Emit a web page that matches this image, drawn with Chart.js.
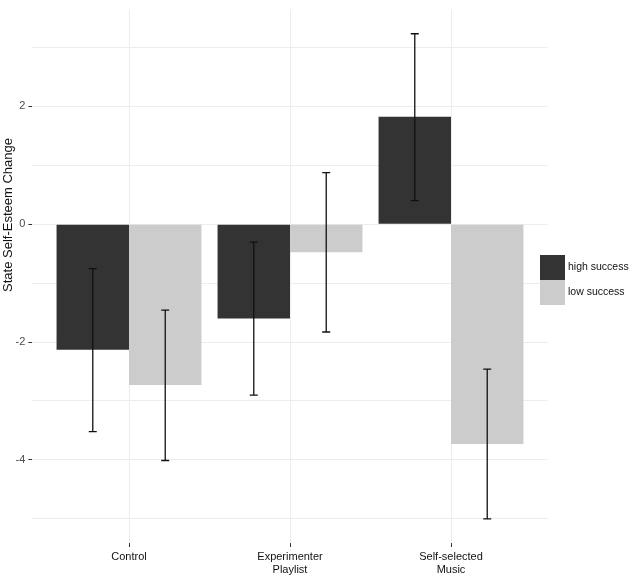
<!DOCTYPE html>
<html>
<head>
<meta charset="utf-8">
<script src="https://cdn.jsdelivr.net/npm/chart.js@4"></script>
<style>
  body { margin: 0; background: #fff; }
  canvas { display: block; }
</style>
</head>
<body>
<canvas id="chart" width="630" height="577"></canvas>
<script>
// values
const categories = [['Control'], ['Experimenter', 'Playlist'], ['Self-selected', 'Music']];
const groups = ['high success', 'low success'];
const highMean = [-2.13, -1.60, 1.82];
const highLow = [-3.52, -2.90, 0.40];
const highHigh = [-0.755, -0.305, 3.23];
const lowMean = [-2.73, -0.477, -3.73];
const lowLow = [-4.01, -1.83, -5.0];
const lowHigh = [-1.46, 0.873, -2.46];
const yTicks = [-5, -4, -3, -2, -1, 0, 1, 2, 3];
const yTitle = 'State Self-Esteem Change';

const colors = ['#333333', '#cccccc'];
const font = '"Liberation Sans", Arial, sans-serif';

const toPoints = arr => arr.map((v, i) => ({ x: i + 1, y: v }));

// draws the error bars from the low/high arrays
const errorBars = {
  id: 'errorBars',
  afterDatasetsDraw(chart) {
    const ctx = chart.ctx;
    const yScale = chart.scales.y;
    const ranges = [[highLow, highHigh], [lowLow, lowHigh]];
    ctx.save();
    ctx.strokeStyle = '#111';
    ctx.lineWidth = 1.3;
    ranges.forEach((r, d) => {
      const meta = chart.getDatasetMeta(d);
      meta.data.forEach((bar, i) => {
        const x = bar.x;
        const y1 = yScale.getPixelForValue(r[0][i]);
        const y2 = yScale.getPixelForValue(r[1][i]);
        ctx.beginPath();
        ctx.moveTo(x, y1); ctx.lineTo(x, y2);
        ctx.moveTo(x - 4, y1); ctx.lineTo(x + 4, y1);
        ctx.moveTo(x - 4, y2); ctx.lineTo(x + 4, y2);
        ctx.stroke();
      });
    });
    ctx.restore();
  }
};

// ggplot style legend on the right + y title
const extras = {
  id: 'extras',
  afterDraw(chart) {
    const ctx = chart.ctx;
    const x = 540, y = 255, size = 25;
    ctx.save();
    ctx.font = '10.5px ' + font;
    ctx.textBaseline = 'middle';
    groups.forEach((g, i) => {
      ctx.fillStyle = colors[i];
      ctx.fillRect(x, y + i * size, size, size);
      ctx.fillStyle = '#111';
      ctx.fillText(g, x + size + 3, y + i * size + size / 2);
    });
    ctx.translate(8, 215);
    ctx.rotate(-Math.PI / 2);
    ctx.textAlign = 'center';
    ctx.font = '13px ' + font;
    ctx.fillText(yTitle, 0, 0);
    ctx.restore();
  }
};

new Chart(document.getElementById('chart'), {
  type: 'bar',
  data: {
    datasets: [
      { label: groups[0], data: toPoints(highMean), backgroundColor: colors[0] },
      { label: groups[1], data: toPoints(lowMean), backgroundColor: colors[1] }
    ]
  },
  options: {
    responsive: false,
    animation: false,
    layout: { padding: { top: 1.3, right: 82.4, left: 0, bottom: 0 } },
    datasets: { bar: { categoryPercentage: 0.9, barPercentage: 1.0 } },
    plugins: {
      legend: { display: false },
      tooltip: { enabled: false }
    },
    scales: {
      x: {
        type: 'linear',
        offset: false,
        min: 0.4,
        max: 3.6,
        afterBuildTicks: s => { s.ticks = [1, 2, 3].map(v => ({ value: v })); },
        afterFit: s => { s.height = 34; },
        border: { display: false },
        grid: { offset: false, color: '#ededed', tickColor: '#333', tickLength: 4, lineWidth: 1 },
        ticks: {
          padding: 4,
          color: '#111',
          font: { family: font, size: 11, lineHeight: 1.15 },
          maxRotation: 0,
          callback: v => categories[v - 1]
        }
      },
      y: {
        min: -5.41,
        max: 3.64,
        afterBuildTicks: s => { s.ticks = yTicks.map(v => ({ value: v })); },
        afterFit: s => { s.width = 32.4; },
        border: { display: false },
        grid: {
          color: '#ededed',
          tickLength: 4,
          tickColor: c => (c.tick && c.tick.value % 2 === 0) ? '#333' : 'rgba(0,0,0,0)'
        },
        ticks: {
          padding: 3,
          color: '#4d4d4d',
          font: { family: font, size: 11 },
          callback: v => (v % 2 === 0 ? String(v) : '')
        }
      }
    }
  },
  plugins: [errorBars, extras]
});
</script>
</body>
</html>
